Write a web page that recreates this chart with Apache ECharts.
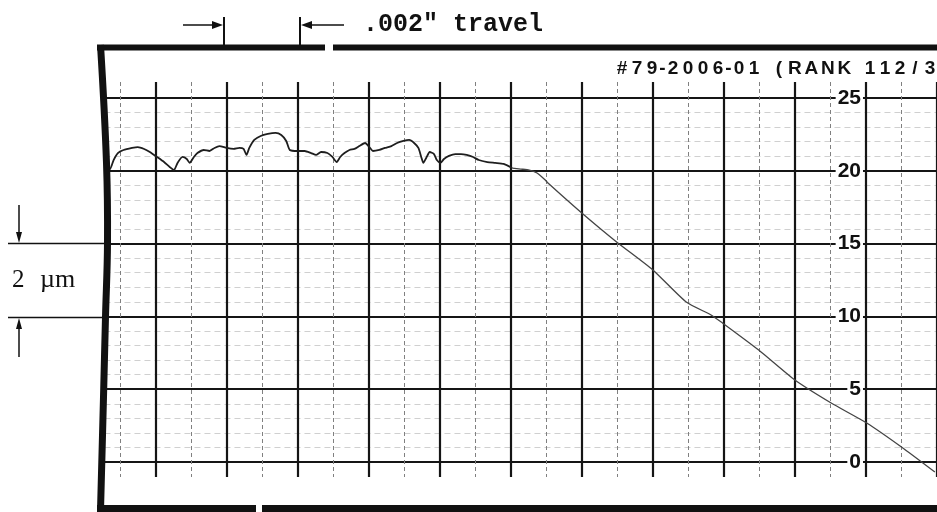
<!DOCTYPE html>
<html>
<head>
<meta charset="utf-8">
<script src="https://cdn.jsdelivr.net/npm/echarts@6/dist/echarts.min.js"></script>
<style>
  html, body { margin: 0; padding: 0; background: #fff; }
  #main { width: 937px; height: 512px; }
</style>
</head>
<body>
<div id="main"></div>
<script>
// x in chart divisions (one heavy division = .002" travel), y in chart units
const profileX = [-0.70, -0.64, -0.59, -0.53, -0.45, -0.33, -0.25, -0.16, -0.08, 0.02, 0.12, 0.20, 0.26, 0.31, 0.38, 0.44, 0.48, 0.54, 0.59, 0.68,
  0.76, 0.83, 0.90, 1.00, 1.10, 1.18, 1.24, 1.28, 1.32, 1.39, 1.48, 1.58, 1.69, 1.77, 1.84, 1.89, 2.00, 2.10, 2.19, 2.26,
  2.33, 2.42, 2.49, 2.55, 2.60, 2.66, 2.73, 2.80, 2.87, 2.95, 3.01, 3.06, 3.15, 3.23, 3.32, 3.40, 3.49, 3.57, 3.64, 3.70,
  3.74, 3.77, 3.81, 3.86, 3.92, 3.96, 4.01, 4.06, 4.13, 4.22, 4.30, 4.38, 4.47, 4.55, 4.67, 4.78, 4.90, 5.02];
const profileY = [20.54, 20.12, 20.74, 21.22, 21.43, 21.57, 21.63, 21.50, 21.29, 20.95, 20.60, 20.26, 20.05, 20.54, 20.95, 20.81, 20.54, 20.95, 21.22, 21.43,
  21.36, 21.57, 21.70, 21.57, 21.50, 21.57, 21.50, 21.09, 21.57, 22.12, 22.39, 22.53, 22.60, 22.46, 22.05, 21.43, 21.36, 21.36, 21.22, 21.09,
  21.29, 21.22, 20.95, 20.60, 20.95, 21.22, 21.43, 21.50, 21.70, 21.91, 21.63, 21.36, 21.43, 21.57, 21.70, 21.91, 22.05, 22.12, 21.91, 21.57,
  20.95, 20.54, 20.88, 21.29, 21.15, 20.74, 20.54, 20.81, 21.02, 21.15, 21.15, 21.09, 20.95, 20.74, 20.60, 20.54, 20.47, 20.19];

const rampX = [5.02, 5.14, 5.26, 5.37, 5.47, 5.54, 6.00, 6.49, 7.00, 7.47, 7.82, 7.98, 8.49, 9.00, 9.51, 10.01, 10.50, 10.97];
const rampY = [20.19, 20.12, 20.05, 19.85, 19.44, 19.09, 17.10, 15.11, 13.19, 10.99, 10.10, 9.55, 7.69, 5.63, 4.05, 2.68, 1.03, -0.69];

const yTickLabels = ['0', '5', '10', '15', '20', '25'];
const titleText = '#79-2006-01 (RANK 112/3';
const travelText = '.002" travel';
const scaleNumber = '2';
const scaleUnit = '\u00b5m';

const myChart = echarts.init(document.getElementById('main'));

// title is spaced out like the original, one glyph at a time
const charWidth = ch => {
  if (ch === ' ') return 10;
  if (ch === '-') return 6;
  if (ch >= 'A' && ch <= 'Z') return 16.5;
  return 15;
};
const titleChars = [];
let cx = 622;
titleText.split('').forEach((ch, i) => {
  if (i > 0) cx += (charWidth(titleText[i - 1]) + charWidth(ch)) / 2;
  if (ch === ' ') return;
  titleChars.push({
    type: 'text', z: 20,
    style: { x: cx, y: 69, text: ch, fill: '#111', font: 'bold 19px "Liberation Sans", Arial, sans-serif', align: 'center', verticalAlign: 'middle' }
  });
});

const ink = '#111';
const graphics = [
  // white paper margin left of the curved edge
  { type: 'polygon', z: 5, shape: { points: [[0, 55], [100, 55], [106, 163], [107, 243], [105, 317], [103, 397], [100, 500], [0, 500]] }, style: { fill: '#fff' } },
  // chart border
  { type: 'polyline', z: 10, shape: { points: [[100.5, 45], [106.5, 163], [107.5, 243], [105.5, 317], [103.5, 397], [100.5, 511]], smooth: 0.4 }, style: { stroke: ink, lineWidth: 7, fill: null } },
  { type: 'line', z: 10, shape: { x1: 97, y1: 47.5, x2: 325, y2: 47.5 }, style: { stroke: ink, lineWidth: 6 } },
  { type: 'line', z: 10, shape: { x1: 333, y1: 47.5, x2: 937, y2: 47.5 }, style: { stroke: ink, lineWidth: 6 } },
  { type: 'line', z: 10, shape: { x1: 97, y1: 508.5, x2: 256, y2: 508.5 }, style: { stroke: ink, lineWidth: 7 } },
  { type: 'line', z: 10, shape: { x1: 262, y1: 508.5, x2: 937, y2: 508.5 }, style: { stroke: ink, lineWidth: 7 } },
  // travel marker
  { type: 'line', z: 10, shape: { x1: 183, y1: 25, x2: 216, y2: 25 }, style: { stroke: ink, lineWidth: 1.5 } },
  { type: 'polygon', z: 10, shape: { points: [[212, 21], [223, 25], [212, 29]] }, style: { fill: ink } },
  { type: 'line', z: 10, shape: { x1: 224, y1: 17, x2: 224, y2: 45 }, style: { stroke: ink, lineWidth: 2 } },
  { type: 'line', z: 10, shape: { x1: 300, y1: 17, x2: 300, y2: 45 }, style: { stroke: ink, lineWidth: 2 } },
  { type: 'polygon', z: 10, shape: { points: [[312, 21], [301, 25], [312, 29]] }, style: { fill: ink } },
  { type: 'line', z: 10, shape: { x1: 308, y1: 25, x2: 344, y2: 25 }, style: { stroke: ink, lineWidth: 1.5 } },
  { type: 'text', z: 20, style: { x: 363, y: 25, text: travelText, fill: ink, font: 'bold 25px "Liberation Mono", "DejaVu Sans Mono", monospace', align: 'left', verticalAlign: 'middle' } },
  // 2 um scale marker
  { type: 'line', z: 10, shape: { x1: 8, y1: 243.5, x2: 104, y2: 243.5 }, style: { stroke: ink, lineWidth: 1.5 } },
  { type: 'line', z: 10, shape: { x1: 8, y1: 317.5, x2: 104, y2: 317.5 }, style: { stroke: ink, lineWidth: 1.5 } },
  { type: 'line', z: 10, shape: { x1: 19, y1: 205, x2: 19, y2: 236 }, style: { stroke: ink, lineWidth: 1.5 } },
  { type: 'polygon', z: 10, shape: { points: [[16, 232], [19, 243], [22, 232]] }, style: { fill: ink } },
  { type: 'line', z: 10, shape: { x1: 19, y1: 324, x2: 19, y2: 357 }, style: { stroke: ink, lineWidth: 1.5 } },
  { type: 'polygon', z: 10, shape: { points: [[16, 329], [19, 318], [22, 329]] }, style: { fill: ink } },
  { type: 'text', z: 20, style: { x: 12, y: 280, text: scaleNumber, fill: ink, font: '25px "Liberation Serif", "Times New Roman", serif', align: 'left', verticalAlign: 'middle' } },
  { type: 'text', z: 20, style: { x: 40, y: 280, text: scaleUnit, fill: ink, font: '26px "Liberation Serif", "Times New Roman", serif', align: 'left', verticalAlign: 'middle' } }
].concat(titleChars);

const option = {
  backgroundColor: '#fff',
  animation: false,
  grid: [
    { left: 84.47, top: 82, width: 854.76, height: 395 },
    { left: 84.47, top: 98, width: 854.76, height: 364 }
  ],
  xAxis: [{
    gridIndex: 0,
    type: 'value',
    min: -1,
    max: 11,
    interval: 1,
    axisLine: { show: false },
    axisTick: { show: false },
    axisLabel: { show: false },
    splitLine: { show: true, lineStyle: { color: '#151515', width: 2.2 } },
    minorTick: { show: false, splitNumber: 2 },
    minorSplitLine: { show: true, lineStyle: { color: '#808080', width: 1, type: [4, 3] } }
  }, {
    gridIndex: 1,
    type: 'value',
    min: -1,
    max: 11,
    show: false
  }],
  yAxis: [{
    gridIndex: 0,
    type: 'value',
    min: 0,
    max: 1,
    show: false
  }, {
    gridIndex: 1,
    type: 'value',
    min: 0,
    max: 25,
    interval: 5,
    position: 'right',
    axisLine: { show: false },
    axisTick: { show: false },
    axisLabel: {
      inside: true,
      margin: 74,
      color: '#111',
      fontFamily: '"Liberation Sans", Arial, sans-serif',
      fontWeight: 'bold',
      fontSize: 21,
      backgroundColor: '#fff',
      padding: [0, 2],
      formatter: (v) => yTickLabels[Math.round(v / 5)]
    },
    splitLine: { show: true, lineStyle: { color: '#151515', width: 2 } },
    minorTick: { show: false, splitNumber: 5 },
    minorSplitLine: { show: true, lineStyle: { color: '#d0d0d0', width: 1, type: [6, 4] } }
  }],
  series: [{
    name: 'profile',
    type: 'line',
    xAxisIndex: 1,
    yAxisIndex: 1,
    data: profileX.map((x, i) => [x, profileY[i]]),
    showSymbol: false,
    smooth: 0.2,
    clip: false,
    lineStyle: { color: '#1e1e1e', width: 1.8 },
    z: 3
  }, {
    name: 'ramp',
    type: 'line',
    xAxisIndex: 1,
    yAxisIndex: 1,
    data: rampX.map((x, i) => [x, rampY[i]]),
    showSymbol: false,
    smooth: 0.2,
    clip: false,
    lineStyle: { color: '#444', width: 1.3 },
    z: 3
  }],
  graphic: graphics
};

myChart.setOption(option);
</script>
</body>
</html>
